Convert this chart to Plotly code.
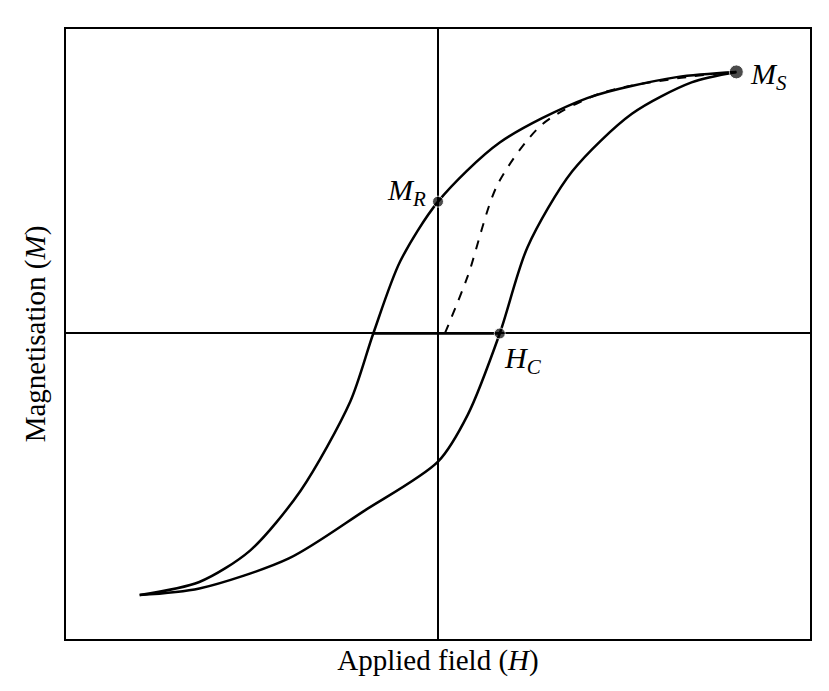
import plotly.graph_objects as go

# Descending (upper) branch
up_x = [1.0, 0.8, 0.5, 0.207, 0.0, -0.127, -0.217, -0.294, -0.46, -0.63, -0.8, -1.0]
up_y = [1.0, 0.98, 0.9, 0.73, 0.504, 0.275, 0.0, -0.26, -0.6, -0.83, -0.95, -1.0]
# Ascending (lower) branch
lo_x = [-1.0, -0.8, -0.5, -0.25, 0.0, 0.1, 0.207, 0.3, 0.45, 0.65, 0.85, 1.0]
lo_y = [-1.0, -0.975, -0.86, -0.68, -0.49, -0.31, 0.0, 0.33, 0.62, 0.84, 0.96, 1.0]
# Virgin curve (dashed)
vi_x = [0.023, 0.1, 0.2, 0.35, 0.55, 0.8, 1.0]
vi_y = [0.0, 0.22, 0.57, 0.8, 0.92, 0.975, 1.0]
# Flat segment along axis
fl_x = [-0.217, 0.207]
fl_y = [0.0, 0.0]
# Marked points
pt_x = [1.0, 0.0, 0.207]
pt_y = [1.0, 0.504, 0.0]

fig = go.Figure()
line = dict(color="black", width=2.5, shape="spline", smoothing=0.8)
fig.add_trace(go.Scatter(x=up_x, y=up_y, mode="lines", line=line))
fig.add_trace(go.Scatter(x=lo_x, y=lo_y, mode="lines", line=line))
fig.add_trace(go.Scatter(x=vi_x, y=vi_y, mode="lines", line=dict(color="black", width=2, dash="dash", shape="spline", smoothing=0.8)))
fig.add_trace(go.Scatter(x=fl_x, y=fl_y, mode="lines", line=dict(color="black", width=2.5)))
fig.add_trace(go.Scatter(x=pt_x, y=pt_y, mode="markers", marker=dict(color="black", size=[14, 11, 11])))

font = dict(family="Liberation Serif", size=30, color="black")
fig.add_annotation(x=1.0, y=1.0, text="<i>M</i><sub><i>S</i></sub>", showarrow=False, xanchor="left", xshift=12, yshift=-4, font=font)
fig.add_annotation(x=0.0, y=0.504, text="<i>M</i><sub><i>R</i></sub>", showarrow=False, xanchor="right", xshift=-10, yshift=10, font=font)
fig.add_annotation(x=0.207, y=0.0, text="<i>H</i><sub><i>C</i></sub>", showarrow=False, xanchor="left", yanchor="top", xshift=2, yshift=-6, font=font)

tfont = dict(family="Liberation Serif", size=29, color="black")
ax = dict(showgrid=False, showticklabels=False, ticks="", zeroline=True, zerolinecolor="black", zerolinewidth=1.5,
          showline=True, linecolor="black", linewidth=2, mirror=True, automargin=False)
fig.update_xaxes(range=[-1.247, 1.247], title=dict(text="Applied field (<i>H</i>)", font=tfont, standoff=10), **ax)
fig.update_yaxes(range=[-1.168, 1.164], title=dict(text="Magnetisation (<i>M</i>)", font=tfont, standoff=10), **ax)
fig.update_layout(width=829, height=691, showlegend=False, plot_bgcolor="white", paper_bgcolor="white",
                  margin=dict(l=58, r=27, t=21, b=60))
fig.write_html("out.html")
